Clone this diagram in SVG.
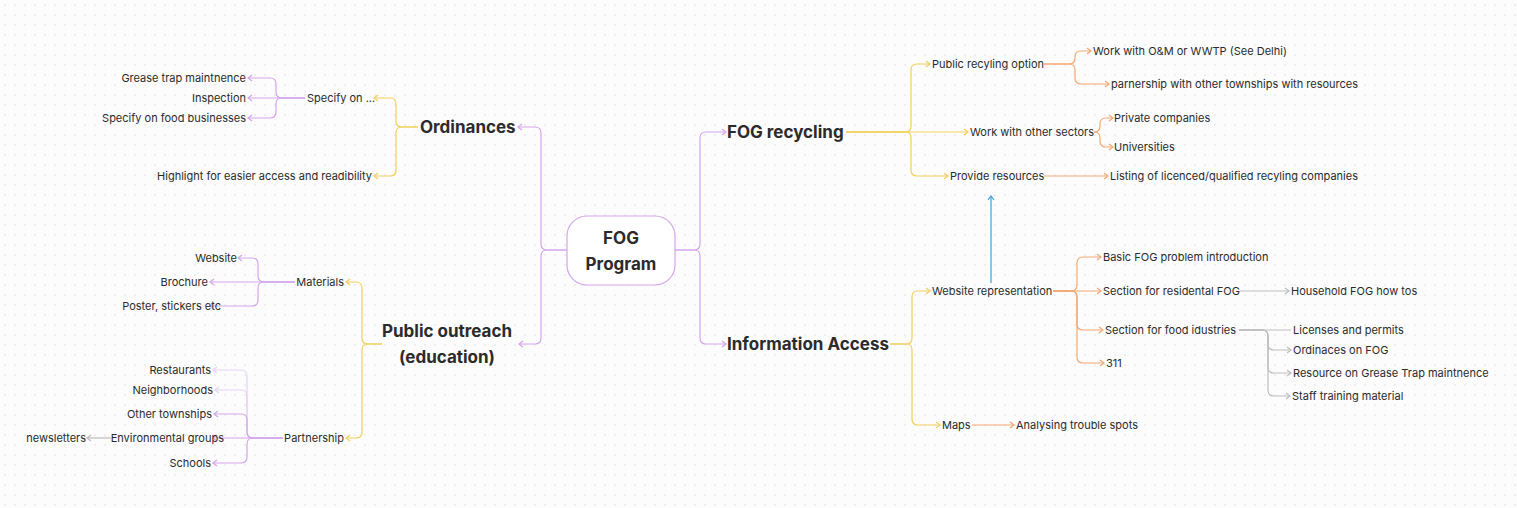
<svg xmlns="http://www.w3.org/2000/svg" width="1517" height="508" viewBox="0 0 1517 508">
<defs>
<pattern id="dots" width="10" height="10" patternUnits="userSpaceOnUse"><circle cx="5" cy="5" r="0.7" fill="#d4d4d4"/></pattern>
<marker id="ap" markerWidth="8" markerHeight="8" refX="6" refY="4" orient="auto" markerUnits="userSpaceOnUse"><path d="M2,1 L6,4 L2,7" fill="none" stroke="#d3a5ec" stroke-width="1"/></marker>
<marker id="apl" markerWidth="8" markerHeight="8" refX="6" refY="4" orient="auto" markerUnits="userSpaceOnUse"><path d="M2,1 L6,4 L2,7" fill="none" stroke="#e6d2f3" stroke-width="1"/></marker>
<marker id="ay" markerWidth="8" markerHeight="8" refX="6" refY="4" orient="auto" markerUnits="userSpaceOnUse"><path d="M2,1 L6,4 L2,7" fill="none" stroke="#f2cf5b" stroke-width="1"/></marker>
<marker id="ao" markerWidth="8" markerHeight="8" refX="6" refY="4" orient="auto" markerUnits="userSpaceOnUse"><path d="M2,1 L6,4 L2,7" fill="none" stroke="#f3a871" stroke-width="1"/></marker>
<marker id="ag" markerWidth="8" markerHeight="8" refX="6" refY="4" orient="auto" markerUnits="userSpaceOnUse"><path d="M2,1 L6,4 L2,7" fill="none" stroke="#bdbdbd" stroke-width="1"/></marker>
<marker id="ab" markerWidth="8" markerHeight="8" refX="6" refY="4" orient="auto" markerUnits="userSpaceOnUse"><path d="M2,1 L6,4 L2,7" fill="none" stroke="#3aa0e0" stroke-width="1"/></marker>
</defs>
<style>
text{font-family:Inter,"Liberation Sans",sans-serif;fill:#2b2b2b}
.s{font-size:11px}
.b{font-size:17px;font-weight:bold}
.e{text-anchor:end}
.m{text-anchor:middle}
path{fill:none;stroke-width:1.2}
.p{stroke:#d3a5ec;marker-end:url(#ap)}
.pl{stroke:#e6d2f3;marker-end:url(#apl)}
.y{stroke:#f2cf5b;marker-end:url(#ay)}
.o{stroke:#f3a871;marker-end:url(#ao)}
.g{stroke:#bdbdbd;marker-end:url(#ag)}
.gn{stroke:#bdbdbd}
.bl{stroke:#3aa0e0;marker-end:url(#ab)}
</style>
<rect width="1517" height="508" fill="#fcfcfc"/>
<rect width="1517" height="508" fill="url(#dots)"/>
<g id="connectors">
<!-- root -->
<path class="p" d="M675,250 H694 Q700,250 700,244 V138 Q700,132 706,132 H726"/>
<path class="p" d="M675,250 H694 Q700,250 700,256 V338 Q700,344 706,344 H726"/>
<path class="p" d="M567,250 H547 Q541,250 541,244 V133 Q541,127 535,127 H518"/>
<path class="p" d="M567,250 H547 Q541,250 541,256 V338 Q541,344 535,344 H519"/>
<!-- FOG recycling -->
<path class="y" d="M846,132 H905 Q911,132 911,126 V70 Q911,64 917,64 H930"/>
<path class="y" d="M846,132 H968"/>
<path class="y" d="M846,132 H905 Q911,132 911,138 V170 Q911,176 917,176 H948"/>
<path class="o" d="M1044,64 H1069 Q1075,64 1075,58 V57 Q1075,51 1081,51 H1091"/>
<path class="o" d="M1044,64 H1069 Q1075,64 1075,70 V78 Q1075,84 1081,84 H1109"/>
<path class="o" d="M1094,132 H1094 Q1100,132 1100,126 V124 Q1100,118 1106,118 H1113"/>
<path class="o" d="M1094,132 H1094 Q1100,132 1100,138 V141 Q1100,147 1106,147 H1113"/>
<path class="o" d="M1044,176 H1108"/>
<path class="bl" d="M991,283 V196"/>
<!-- Information Access -->
<path class="y" d="M890,344 H906 Q912,344 912,338 V297 Q912,291 918,291 H930"/>
<path class="y" d="M890,344 H906 Q912,344 912,350 V419 Q912,425 918,425 H940"/>
<path class="o" d="M1053,291 H1071 Q1077,291 1077,285 V263 Q1077,257 1083,257 H1101"/>
<path class="o" d="M1053,291 H1101"/>
<path class="o" d="M1053,291 H1071 Q1077,291 1077,297 V324 Q1077,330 1083,330 H1103"/>
<path class="o" d="M1053,291 H1071 Q1077,291 1077,297 V357 Q1077,363 1083,363 H1104"/>
<path class="g" d="M1240,291 H1289"/>
<path class="gn" d="M1239,330 H1291"/>
<path class="g" d="M1239,330 H1262 Q1268,330 1268,336 V344 Q1268,350 1274,350 H1291"/>
<path class="g" d="M1239,330 H1262 Q1268,330 1268,336 V367 Q1268,373 1274,373 H1291"/>
<path class="g" d="M1239,330 H1262 Q1268,330 1268,336 V390 Q1268,396 1274,396 H1290"/>
<path class="o" d="M972,425 H1014"/>
<!-- Ordinances -->
<path class="y" d="M418,127 H402 Q396,127 396,121 V104 Q396,98 390,98 H374"/>
<path class="y" d="M418,127 H402 Q396,127 396,133 V170 Q396,176 390,176 H374"/>
<path class="p" d="M305,98 H248"/>
<path class="p" d="M305,98 H282 Q276,98 276,92 V84 Q276,78 270,78 H248"/>
<path class="p" d="M305,98 H282 Q276,98 276,104 V112 Q276,118 270,118 H248"/>
<!-- Public outreach -->
<path class="y" d="M382,344 H368 Q362,344 362,338 V288 Q362,282 356,282 H346"/>
<path class="y" d="M382,344 H368 Q362,344 362,350 V432 Q362,438 356,438 H346"/>
<path class="p" d="M295,282 H210"/>
<path class="p" d="M295,282 H264 Q258,282 258,276 V264 Q258,258 252,258 H238"/>
<path class="p" d="M295,282 H264 Q258,282 258,288 V300 Q258,306 252,306 H210"/>
<path class="pl" d="M283,438 H253 Q247,438 247,432 V376 Q247,370 241,370 H213"/>
<path class="pl" d="M283,438 H253 Q247,438 247,432 V396 Q247,390 241,390 H215"/>
<path class="p" d="M283,438 H253 Q247,438 247,432 V420 Q247,414 241,414 H214"/>
<path class="p" d="M283,438 H213"/>
<path class="p" d="M283,438 H253 Q247,438 247,444 V457 Q247,463 241,463 H213"/>
<path class="g" d="M111,438 H87"/>
</g>
<g id="root"><rect x="567" y="216" width="108" height="69" rx="20" fill="#fff" stroke="#d3a5ec" stroke-width="1.2"/><text class="b m" x="621" y="244">FOG</text><text class="b m" x="621" y="270">Program</text></g>
<g id="fog-recycling"><text class="b" x="727" y="138">FOG recycling</text></g>
<g id="public-recycling"><text class="s" x="932" y="68">Public recyling option</text></g>
<g id="om"><text class="s" x="1093" y="55">Work with O&amp;M or WWTP (See Delhi)</text></g>
<g id="parnership"><text class="s" x="1111" y="88">parnership with other townships with resources</text></g>
<g id="sectors"><text class="s" x="970" y="136">Work with other sectors</text></g>
<g id="private"><text class="s" x="1114" y="122">Private companies</text></g>
<g id="univ"><text class="s" x="1114" y="151">Universities</text></g>
<g id="provide"><text class="s" x="950" y="180">Provide resources</text></g>
<g id="listing"><text class="s" x="1110" y="180">Listing of licenced/qualified recyling companies</text></g>
<g id="info"><text class="b" x="727" y="350">Information Access</text></g>
<g id="website-rep"><text class="s" x="932" y="295">Website representation</text></g>
<g id="basic"><text class="s" x="1103" y="261">Basic FOG problem introduction</text></g>
<g id="resid"><text class="s" x="1103" y="295">Section for residental FOG</text></g>
<g id="household"><text class="s" x="1291" y="295">Household FOG how tos</text></g>
<g id="food"><text class="s" x="1105" y="334">Section for food idustries</text></g>
<g id="lic"><text class="s" x="1293" y="334">Licenses and permits</text></g>
<g id="ordfog"><text class="s" x="1293" y="354">Ordinaces on FOG</text></g>
<g id="resgt"><text class="s" x="1293" y="377">Resource on Grease Trap maintnence</text></g>
<g id="staff"><text class="s" x="1292" y="400">Staff training material</text></g>
<g id="n311"><text class="s" x="1106" y="367">311</text></g>
<g id="maps"><text class="s" x="942" y="429">Maps</text></g>
<g id="trouble"><text class="s" x="1016" y="429">Analysing trouble spots</text></g>
<g id="ordinances"><text class="b" x="420" y="133">Ordinances</text></g>
<g id="specify"><text class="s" x="307" y="102">Specify on ...</text></g>
<g id="grease"><text class="s e" x="246" y="82">Grease trap maintnence</text></g>
<g id="inspection"><text class="s e" x="246" y="102">Inspection</text></g>
<g id="specfood"><text class="s e" x="246" y="122">Specify on food businesses</text></g>
<g id="highlight"><text class="s e" x="372" y="180">Highlight for easier access and readibility</text></g>
<g id="outreach"><text class="b m" x="447" y="337">Public outreach</text><text class="b m" x="447" y="363">(education)</text></g>
<g id="materials"><text class="s e" x="344" y="286">Materials</text></g>
<g id="website"><text class="s e" x="237" y="262">Website</text></g>
<g id="brochure"><text class="s e" x="208" y="286">Brochure</text></g>
<g id="poster"><text class="s e" x="221" y="310">Poster, stickers etc</text></g>
<g id="partnership"><text class="s e" x="344" y="442">Partnership</text></g>
<g id="restaurants"><text class="s e" x="211" y="374">Restaurants</text></g>
<g id="neigh"><text class="s e" x="213" y="394">Neighborhoods</text></g>
<g id="townships"><text class="s e" x="212" y="418">Other townships</text></g>
<g id="env"><text class="s e" x="224" y="442">Environmental groups</text></g>
<g id="schools"><text class="s e" x="211" y="467">Schools</text></g>
<g id="newsletters"><text class="s e" x="86" y="442">newsletters</text></g>
</svg>
